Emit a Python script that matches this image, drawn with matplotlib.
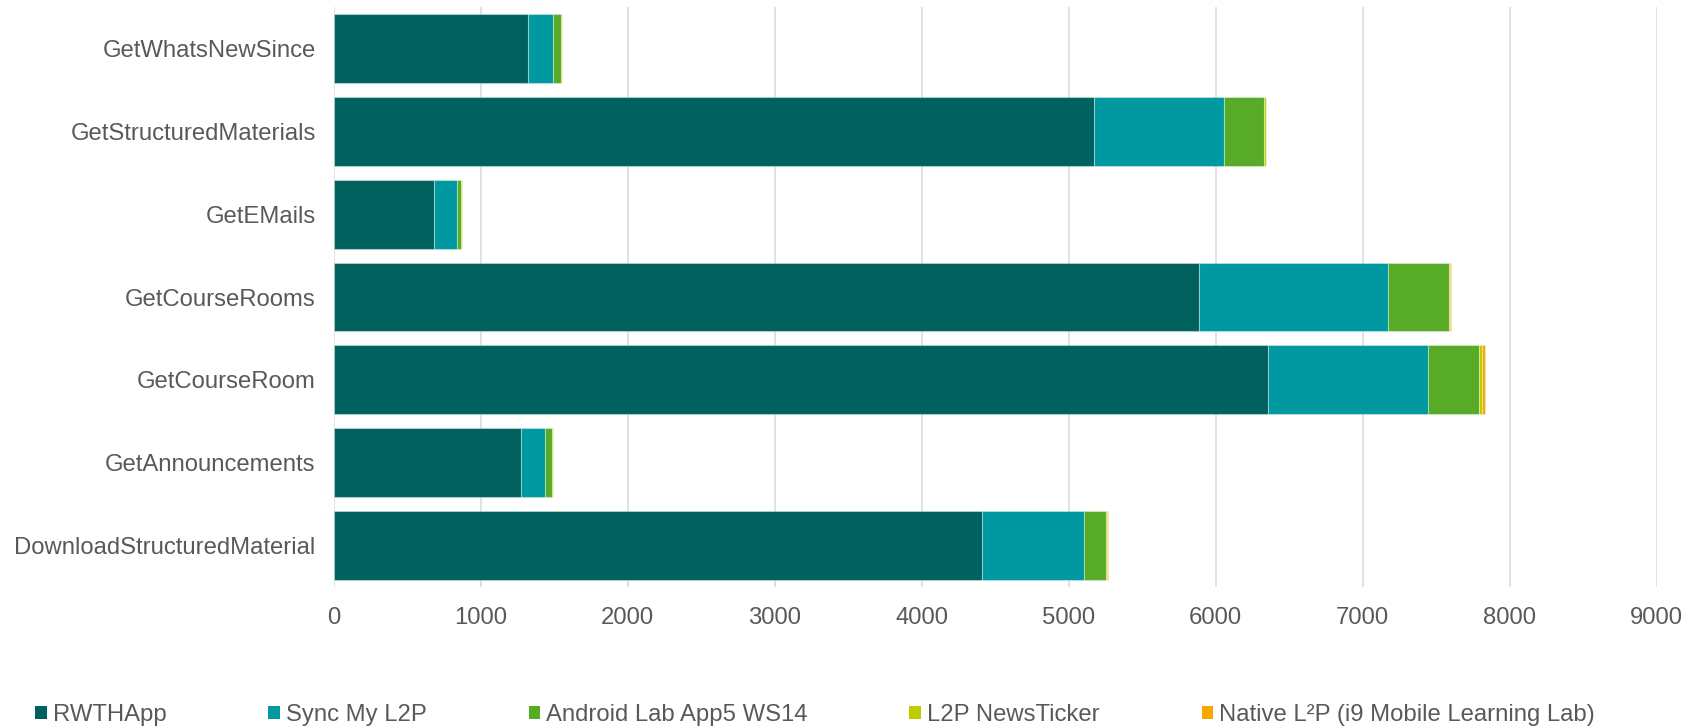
import matplotlib
matplotlib.use("Agg")
import matplotlib.pyplot as plt
import numpy as np

plt.rcParams['font.family'] = ['Liberation Sans', 'DejaVu Sans']

# API calls per client application
categories = [
    "DownloadStructuredMaterial",
    "GetAnnouncements",
    "GetCourseRoom",
    "GetCourseRooms",
    "GetEMails",
    "GetStructuredMaterials",
    "GetWhatsNewSince",
]

rwthapp = [4410, 1272, 6356, 5886, 682, 5174, 1324]
sync_my_l2p = [696, 165, 1090, 1286, 157, 884, 170]
android_lab = [146, 50, 345, 415, 25, 271, 54]
l2p_newsticker = [8, 5, 23, 6, 7, 11, 3]
native_l2p = [7, 2, 16, 8, 2, 2, 2]

series_names = [
    "RWTHApp",
    "Sync My L2P",
    "Android Lab App5 WS14",
    "L2P NewsTicker",
    "Native L²P (i9 Mobile Learning Lab)",
]
series_values = [rwthapp, sync_my_l2p, android_lab, l2p_newsticker, native_l2p]
colors = ["#00615F", "#0098A1", "#57AB27", "#BDCD00", "#F6A800"]

x_ticks = [0, 1000, 2000, 3000, 4000, 5000, 6000, 7000, 8000, 9000]

text_color = "#595959"
fs = 17.2

fig = plt.figure(figsize=(17.04, 7.28), dpi=100)
ax = fig.add_axes([333.7 / 1704, 1 - 587 / 728, (1656.7 - 333.7) / 1704, (587 - 7) / 728])

y = np.arange(len(categories))
left = np.zeros(len(categories))
for name, vals, col in zip(series_names, series_values, colors):
    vals = np.asarray(vals, dtype=float)
    ax.barh(y, vals, left=left, height=0.83, color=col, label=name,
            edgecolor=(1, 1, 1, 0.35), linewidth=0.8, zorder=3)
    left += vals

ax.set_xlim(0, 9000)
ax.set_ylim(-0.5, len(categories) - 0.5)
ax.set_xticks(x_ticks)
ax.set_xticklabels([str(t) for t in x_ticks])
ax.set_yticks(y)
ax.set_yticklabels(categories)

ax.grid(axis="x", color="#D9D9D9", linewidth=1.1, zorder=0)
ax.grid(axis="y", visible=False)
for s in ["top", "right", "bottom", "left"]:
    ax.spines[s].set_visible(False)

ax.tick_params(axis="y", length=0, pad=13, labelsize=fs, labelcolor=text_color)
ax.tick_params(axis="x", length=0, pad=14.5, labelsize=fs, labelcolor=text_color)

leg = fig.legend(
    loc="center left",
    bbox_to_anchor=(35 / 1704, 1 - 715 / 728),
    ncol=5,
    frameon=False,
    fontsize=fs,
    handlelength=0.5,
    handleheight=0.5,
    handletextpad=0.25,
    columnspacing=4.25,
    borderpad=0,
    borderaxespad=0,
)
for t in leg.get_texts():
    t.set_color(text_color)
for h in leg.legend_handles:
    h.set_edgecolor("none")

fig.savefig("out.png", dpi=100)
